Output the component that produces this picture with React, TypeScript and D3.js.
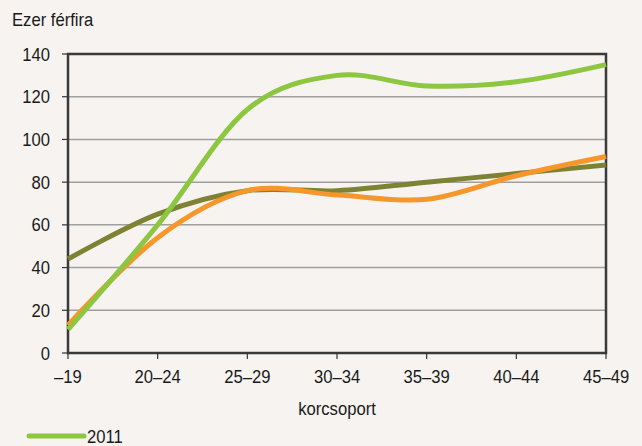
import React from "react";
import * as d3 from "d3";

const categories = ["–19", "20–24", "25–29", "30–34", "35–39", "40–44", "45–49"];
const yTicks = [0, 20, 40, 60, 80, 100, 120, 140];
const series2011 = [11, 60, 114, 130, 125, 127, 135];
const seriesOrange = [13, 54, 76, 74, 72, 83, 92];
const seriesOlive = [44, 65, 76, 76, 80, 84, 88];

const W = 642, H = 446;
const left = 68, right = 606, top = 54, bottom = 353;
const font = "'Liberation Sans', Arial, sans-serif";
const SX = 0.9;

function T({ x, y, anchor = "start", children }: { x: number; y: number; anchor?: string; children: React.ReactNode }) {
  return (
    <text
      transform={`translate(${x},${y}) scale(${SX},1)`}
      textAnchor={anchor as any}
      fontFamily={font}
      fontSize={18.5}
      fill="#1a1a1a"
    >
      {children}
    </text>
  );
}

export default function App() {
  const x = d3.scalePoint<string>().domain(categories).range([left, right]);
  const y = d3.scaleLinear().domain([0, 140]).range([bottom, top]);
  const line = d3
    .line<number>()
    .x((_, i) => x(categories[i]) as number)
    .y((d) => y(d))
    .curve(d3.curveCatmullRom.alpha(0));

  const series = [
    { data: seriesOlive, color: "#7d8332" },
    { data: seriesOrange, color: "#f7962a" },
    { data: series2011, color: "#8dc641" },
  ];

  return (
    <svg width={W} height={H} style={{ position: "absolute", left: 0, top: 0, background: "#f6f3f0" }}>
      <rect x={0} y={0} width={W} height={H} fill="#f6f3f0" />
      <T x={12} y={26}>Ezer férfira</T>
      {yTicks.map((t) => (
        <g key={t}>
          {t > 0 && t < 140 && (
            <line x1={left} x2={right} y1={y(t)} y2={y(t)} stroke="#a0a0a0" strokeWidth={1.5} />
          )}
          <line x1={left - 6} x2={left} y1={y(t)} y2={y(t)} stroke="#333" strokeWidth={1.2} />
          <T x={50} y={y(t) + 6.5} anchor="end">{t}</T>
        </g>
      ))}
      <rect x={left} y={top} width={right - left} height={bottom - top} fill="none" stroke="#3a3a3a" strokeWidth={2.5} />
      {categories.map((c) => (
        <g key={c}>
          <line x1={x(c)} x2={x(c)} y1={bottom} y2={bottom + 6} stroke="#333" strokeWidth={1.2} />
          <T x={x(c) as number} y={bottom + 30} anchor="middle">{c}</T>
        </g>
      ))}
      <T x={(left + right) / 2} y={bottom + 62} anchor="middle">korcsoport</T>
      {series.map((s, i) => (
        <path key={i} d={line(s.data) || ""} fill="none" stroke={s.color} strokeWidth={5} strokeLinecap="butt" />
      ))}
      <line x1={29} x2={84} y1={436} y2={436} stroke="#8dc641" strokeWidth={5} strokeLinecap="round" />
      <T x={87} y={443}>2011</T>
    </svg>
  );
}
